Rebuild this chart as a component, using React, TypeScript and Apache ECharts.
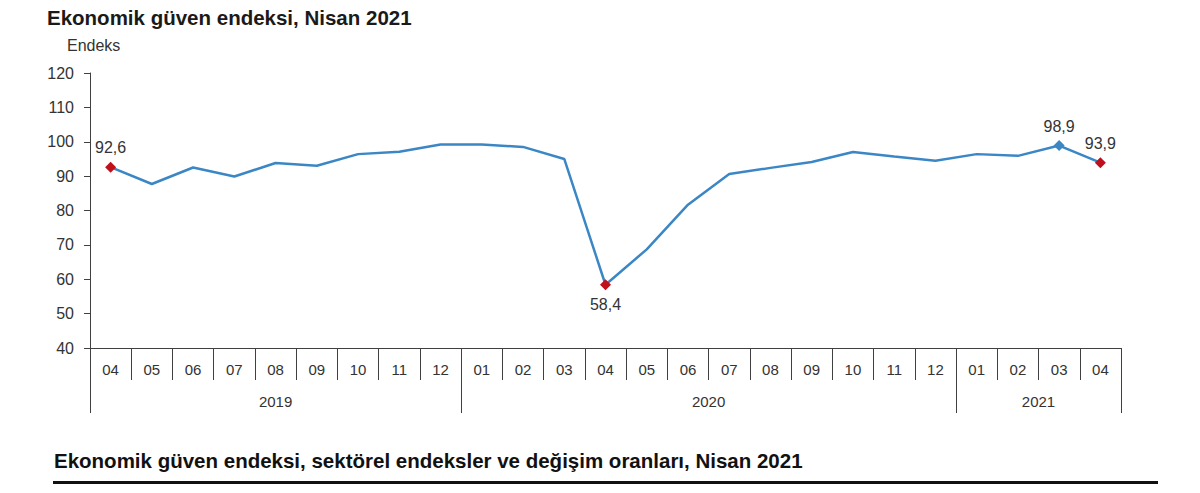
import React, { useEffect, useRef } from 'react';
import * as echarts from 'echarts';

const months = ['04','05','06','07','08','09','10','11','12','01','02','03','04','05','06','07','08','09','10','11','12','01','02','03','04'];
const years = ['2019','2019','2019','2019','2019','2019','2019','2019','2019','2020','2020','2020','2020','2020','2020','2020','2020','2020','2020','2020','2020','2021','2021','2021','2021'];
const values = [92.6, 87.7, 92.5, 89.9, 93.8, 93.0, 96.4, 97.1, 99.2, 99.2, 98.5, 95.0, 58.4, 68.7, 81.7, 90.6, 92.4, 94.1, 97.0, 95.7, 94.5, 96.4, 95.9, 98.9, 93.9];
const redMarkIdx = [0, 12, 24];
const blueMarkIdx = [23];
const labelBelowIdx = [12];
const yMin = 40;
const yMax = 120;
const yStep = 10;
const title = 'Ekonomik güven endeksi, Nisan 2021';
const yName = 'Endeks';
const footerTitle = 'Ekonomik güven endeksi, sektörel endeksler ve değişim oranları, Nisan 2021';

const LINE = '#3b87c6';
const RED = '#c0101c';
const AXIS = '#404040';
const TEXT = '#333333';
const FONT = "'Liberation Sans', Arial, sans-serif";

export default function App() {
  const ref = useRef<HTMLDivElement>(null);
  useEffect(() => {
    if (!ref.current) return;
    const chart = echarts.init(ref.current, undefined, { renderer: 'svg' });

    // year groups
    const yearStarts: number[] = [];
    const yearCenters: Record<string, string> = {};
    let i = 0;
    while (i < years.length) {
      let j = i;
      while (j < years.length && years[j] === years[i]) j++;
      yearStarts.push(i);
      yearCenters[String(i + (j - i) / 2)] = years[i];
      i = j;
    }

    const fmt = (v: number) => v.toFixed(1).replace('.', ',');

    const data = values.map((v, idx) => {
      const isRed = redMarkIdx.includes(idx);
      const isBlue = blueMarkIdx.includes(idx);
      if (!isRed && !isBlue) return { value: v, symbol: 'none' };
      const below = labelBelowIdx.includes(idx);
      return {
        value: v,
        symbol: 'diamond',
        symbolSize: 11,
        itemStyle: { color: isRed ? RED : LINE },
        label: {
          show: true,
          position: below ? 'bottom' : 'top',
          distance: 6,
          formatter: () => fmt(v),
          fontSize: 16,
          color: TEXT,
          fontFamily: FONT,
        },
      };
    });

    chart.setOption({
      animation: false,
      backgroundColor: '#ffffff',
      textStyle: { fontFamily: FONT },
      grid: { left: 90, right: 79, top: 73, bottom: 145, containLabel: false },
      graphic: [
        {
          type: 'text', left: 47, top: 7,
          style: { text: title, font: `bold 20.5px ${FONT}`, fill: '#1a1a1a' },
        },
        {
          type: 'text', left: 67, top: 37,
          style: { text: yName, font: `16px ${FONT}`, fill: TEXT },
        },
        {
          type: 'text', left: 54, top: 450,
          style: { text: footerTitle, font: `bold 20.5px ${FONT}`, fill: '#111111' },
        },
        {
          type: 'line', shape: { x1: 53, y1: 482.5, x2: 1158, y2: 482.5 },
          style: { stroke: '#111111', lineWidth: 3 },
        },
      ],
      xAxis: [
        {
          type: 'category',
          data: months,
          position: 'bottom',
          boundaryGap: true,
          axisLine: { show: true, onZero: false, lineStyle: { color: AXIS, width: 1 } },
          axisTick: { show: true, interval: 0, length: 32, lineStyle: { color: AXIS } },
          axisLabel: { interval: 0, margin: 14, fontSize: 15, color: TEXT, fontFamily: FONT },
          splitLine: { show: false },
        },
        {
          type: 'category',
          data: months,
          position: 'bottom',
          boundaryGap: true,
          axisLine: { show: false, onZero: false },
          axisTick: {
            show: true,
            interval: (idx: number) => yearStarts.includes(idx),
            length: 65,
            lineStyle: { color: AXIS },
          },
          axisLabel: { show: false },
          splitLine: { show: false },
        },
        {
          type: 'value',
          position: 'bottom',
          min: 0,
          max: months.length,
          interval: 0.5,
          axisLine: { show: false, onZero: false },
          axisTick: { show: false },
          splitLine: { show: false },
          axisLabel: {
            show: true,
            margin: 46,
            fontSize: 15,
            color: TEXT,
            fontFamily: FONT,
            showMinLabel: true,
            showMaxLabel: true,
            formatter: (v: number) => yearCenters[String(v)] || '',
          },
        },
      ],
      yAxis: {
        type: 'value',
        min: yMin,
        max: yMax,
        interval: yStep,
        axisLine: { show: true, lineStyle: { color: AXIS, width: 1 } },
        axisTick: { show: true, length: 6, lineStyle: { color: AXIS } },
        axisLabel: { margin: 16, fontSize: 16, color: TEXT, fontFamily: FONT },
        splitLine: { show: false },
      },
      series: [
        {
          type: 'line',
          xAxisIndex: 0,
          data,
          lineStyle: { color: LINE, width: 2.5 },
          itemStyle: { color: LINE },
          showSymbol: true,
          z: 3,
        },
      ],
    });
    return () => chart.dispose();
  }, []);
  return <div ref={ref} style={{ position: 'fixed', left: 0, top: 0, width: 1200, height: 493 }} />;
}
